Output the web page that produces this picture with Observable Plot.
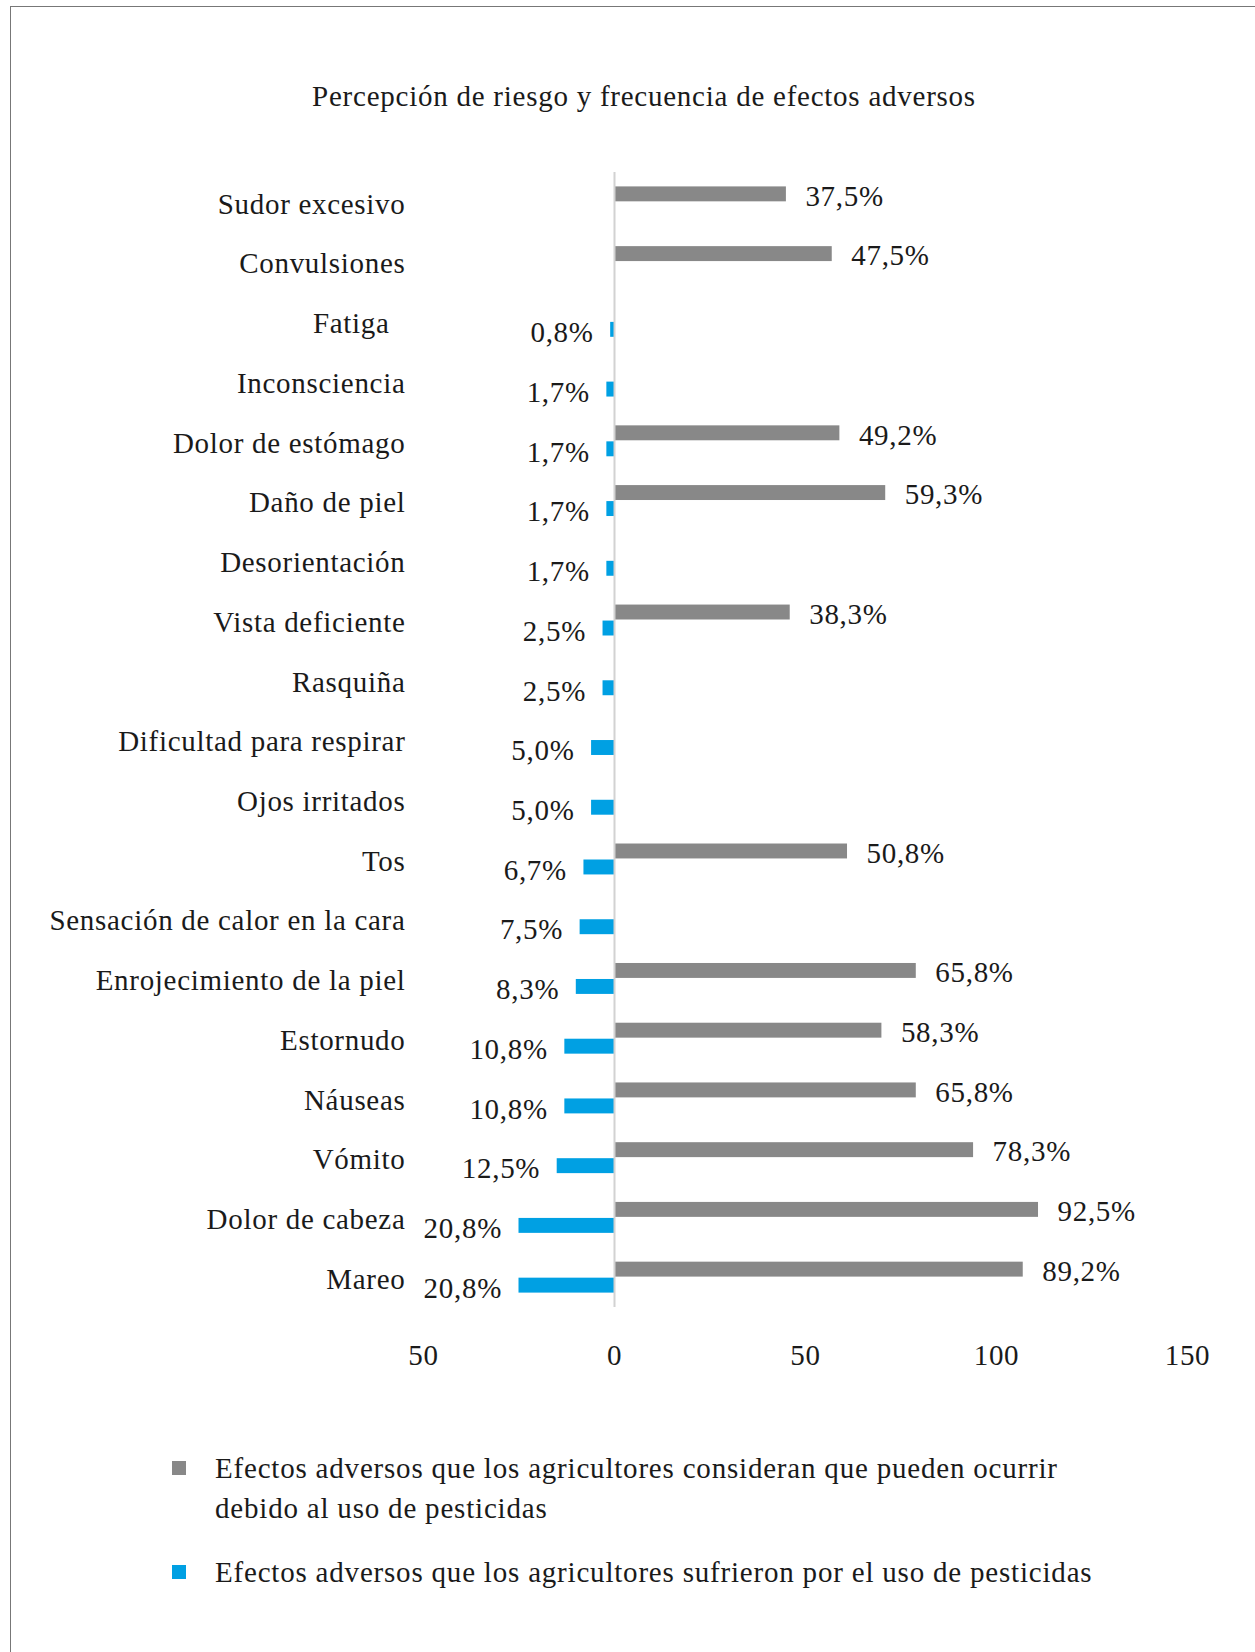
<!DOCTYPE html>
<html>
<head>
<meta charset="utf-8">
<script src="https://cdn.jsdelivr.net/npm/d3@7"></script>
<script src="https://cdn.jsdelivr.net/npm/@observablehq/plot@0.6"></script>
<style>
  body { margin: 0; background: #fff; }
  #wrap { position: relative; width: 1255px; height: 1652px; overflow: hidden;
          font-family: "Liberation Serif", serif; color: #1a1a1a; background: #fff; }
  #frame { position: absolute; left: 10px; top: 6px; width: 1400px; height: 1800px;
           border-top: 1px solid #777; border-left: 1px solid #777; }
  #title { position: absolute; top: 80px; left: 33px; width: 1222px; text-align: center;
           font-size: 29px; letter-spacing: 0.75px; line-height: 32px; }
  #chart { position: absolute; top: 150px; left: 0; }
  #chart svg text { letter-spacing: 0.7px; }
  .leg { position: absolute; left: 215px; font-size: 29px; letter-spacing: 0.8px; line-height: 40px; white-space: nowrap; }
  .sw { position: absolute; left: 172px; width: 14px; height: 14px; }
</style>
</head>
<body>
<div id="wrap">
  <div id="frame"></div>
  <div id="title">Percepción de riesgo y frecuencia de efectos adversos</div>
  <div id="chart"></div>
  <div class="sw" style="top:1461px; background:#888888;"></div>
  <div class="leg" style="top:1448px;">Efectos adversos que los agricultores consideran que pueden ocurrir<br>debido al uso de pesticidas</div>
  <div class="sw" style="top:1565px; background:#00a0e3;"></div>
  <div class="leg" style="top:1552px;">Efectos adversos que los agricultores sufrieron por el uso de pesticidas</div>
</div>
<script>
const categories = ["Sudor excesivo","Convulsiones","Fatiga","Inconsciencia","Dolor de estómago","Daño de piel","Desorientación","Vista deficiente","Rasquiña","Dificultad para respirar","Ojos irritados","Tos","Sensación de calor en la cara","Enrojecimiento de la piel","Estornudo","Náuseas","Vómito","Dolor de cabeza","Mareo"];
// counts (n = 120) that set bar lengths, and the percentage labels shown
const consideredCount = [45,57,null,null,59,71,null,46,null,null,null,61,null,79,70,79,94,111,107];
const consideredLabel = ["37,5%","47,5%",null,null,"49,2%","59,3%",null,"38,3%",null,null,null,"50,8%",null,"65,8%","58,3%","65,8%","78,3%","92,5%","89,2%"];
const sufferedCount = [null,null,1,2,2,2,2,3,3,6,6,8,9,10,13,13,15,25,25];
const sufferedLabel = [null,null,"0,8%","1,7%","1,7%","1,7%","1,7%","2,5%","2,5%","5,0%","5,0%","6,7%","7,5%","8,3%","10,8%","10,8%","12,5%","20,8%","20,8%"];
const xTicks = [-50, 0, 50, 100, 150];

const considered = categories.map((c, i) => ({cat: c, value: consideredCount[i], label: consideredLabel[i]})).filter(d => d.value != null);
const suffered = categories.map((c, i) => ({cat: c, value: sufferedCount[i], label: sufferedLabel[i]})).filter(d => d.value != null);

const GRAY = "#888888", BLUE = "#00a0e3", INK = "#1a1a1a";

const chart = Plot.plot({
  width: 1255,
  height: 1230,
  marginLeft: 423,
  marginRight: 68,
  marginTop: 22,
  marginBottom: 73,
  style: {fontFamily: '"Liberation Serif", serif', fontSize: "29px", color: INK, background: "transparent", overflow: "visible"},
  x: {domain: [-50, 150]},
  y: {domain: categories, padding: 0, round: false},
  marks: [
    Plot.barX(considered, {x1: 0, x2: "value", y: "cat", fill: GRAY, insetTop: 14.4, insetBottom: 30.4}),
    Plot.barX(suffered, {x1: d => -d.value, x2: 0, y: "cat", fill: BLUE, insetTop: 30.4, insetBottom: 14.4}),
    Plot.ruleX([0], {stroke: "#d2d2d2", strokeWidth: 2}),
    Plot.text(considered, {x: "value", y: "cat", text: "label", textAnchor: "start", dx: 19, dy: -6, fill: INK, fontSize: 29}),
    Plot.text(suffered, {x: d => -d.value, y: "cat", text: "label", textAnchor: "end", dx: -17, dy: 11, fill: INK, fontSize: 29}),
    Plot.axisX({ticks: xTicks, tickFormat: d => Math.abs(d), tickSize: 0, tickPadding: 37, anchor: "bottom", fontSize: 29, label: null, fill: INK}),
    Plot.axisY({tickSize: 0, tickPadding: 18, anchor: "left", fontSize: 29, label: null, dy: 2, fill: INK,
                tickFormat: d => d === "Fatiga" ? "Fatiga\u00a0\u00a0" : d})
  ]
});
document.getElementById("chart").appendChild(chart);
</script>
</body>
</html>
